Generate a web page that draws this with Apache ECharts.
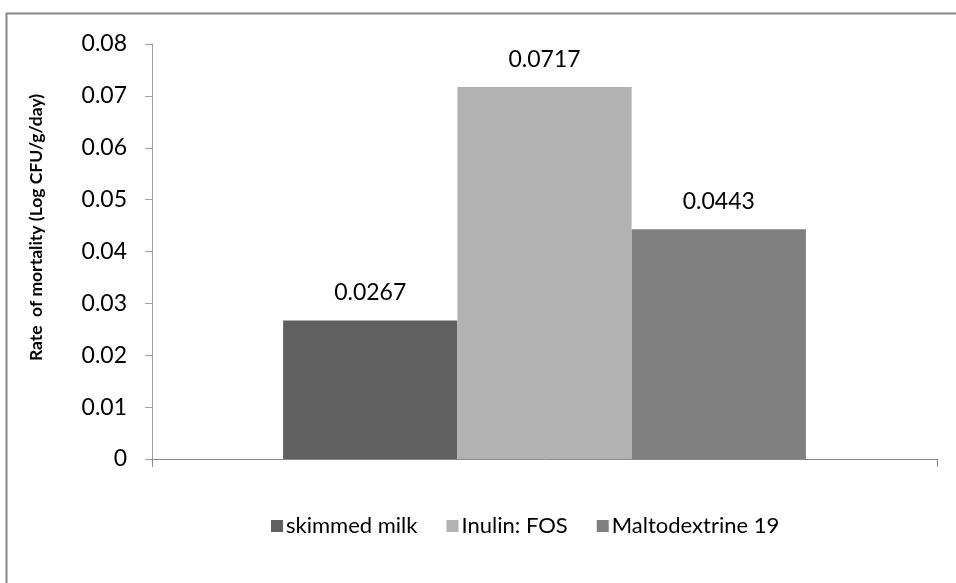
<!DOCTYPE html>
<html>
<head>
<meta charset="utf-8">
<title>Rate of mortality</title>
<script src="https://cdn.jsdelivr.net/npm/echarts@6/dist/echarts.min.js"></script>
<style>
  html, body { margin: 0; padding: 0; background: #ffffff; }
  #chart { width: 956px; height: 583px; }
</style>
</head>
<body>
<div id="chart"></div>
<script>
// Mortality rate per carrier material (Log CFU/g/day)
const categories = [''];
const seriesNames = ['skimmed milk', 'Inulin: FOS', 'Maltodextrine 19'];
const skimmedMilk = [0.0267];
const inulinFos = [0.0717];
const maltodextrine19 = [0.0443];
const seriesValues = [skimmedMilk, inulinFos, maltodextrine19];
const seriesColors = ['#606060', '#b2b2b2', '#808080'];
const yTicks = { min: 0, max: 0.08, interval: 0.01 };

const FONT = 'Lato, "Liberation Sans", Arial, sans-serif';

const chart = echarts.init(document.getElementById('chart'), null, { renderer: 'canvas' });

const series = seriesNames.map((name, i) => ({
  name: name,
  type: 'bar',
  data: seriesValues[i],
  barGap: '0%',
  barCategoryGap: '33.4%',
  itemStyle: { color: seriesColors[i] },
  label: {
    show: true,
    position: 'top',
    distance: 16,
    color: '#000000',
    fontFamily: FONT,
    fontSize: 23,
    formatter: p => String(p.value)
  },
  emphasis: { disabled: true }
}));

chart.setOption({
  animation: false,
  backgroundColor: '#ffffff',
  graphic: [{
    type: 'rect',
    shape: { x: 6.5, y: 13.5, width: 1000, height: 1000 },
    style: { fill: 'none', stroke: '#878787', lineWidth: 2 },
    silent: true
  }],
  grid: { left: 152, right: 19, top: 44, bottom: 124, containLabel: false },
  legend: {
    data: seriesNames,
    left: 266,
    top: 510,
    itemWidth: 12,
    itemHeight: 12,
    itemGap: 29,
    icon: 'rect',
    textStyle: { fontFamily: FONT, fontSize: 22, color: '#000000', padding: [0, 0, 0, -2] }
  },
  xAxis: {
    type: 'category',
    data: categories,
    axisLine: { lineStyle: { color: '#8a8a8a', width: 1 } },
    axisTick: { show: true, length: 8, lineStyle: { color: '#8a8a8a' } },
    axisLabel: { show: false },
    splitLine: { show: false }
  },
  yAxis: {
    type: 'value',
    min: yTicks.min,
    max: yTicks.max,
    interval: yTicks.interval,
    name: 'Rate  of mortality (Log CFU/g/day)',
    nameLocation: 'middle',
    nameRotate: 90,
    nameGap: 107,
    nameTextStyle: { fontFamily: FONT, fontSize: 17.5, fontWeight: 'bold', color: '#000000', padding: [0, 0, 0, 48] },
    axisLine: { show: true, lineStyle: { color: '#a0a0a0', width: 1 } },
    axisTick: { show: true, length: 7, lineStyle: { color: '#a0a0a0' } },
    axisLabel: {
      fontFamily: FONT,
      fontSize: 23,
      color: '#000000',
      margin: 25,
      formatter: v => (v === 0 ? '0' : v.toFixed(2))
    },
    splitLine: { show: false }
  },
  series: series
});
</script>
</body>
</html>
